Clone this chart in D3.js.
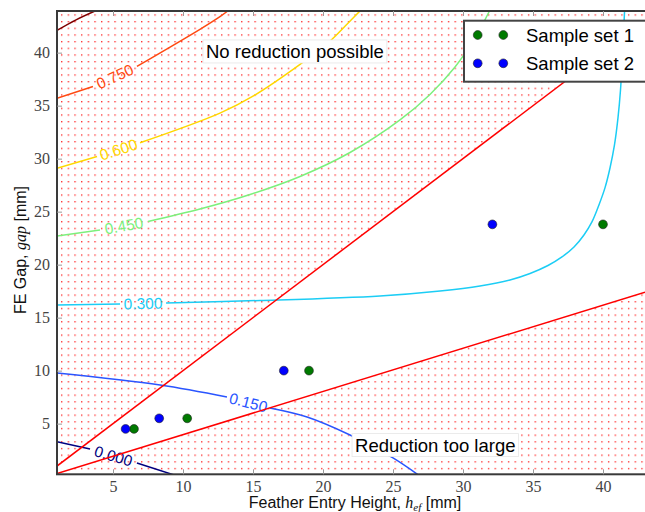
<!DOCTYPE html>
<html>
<head>
<meta charset="utf-8">
<script src="https://cdn.jsdelivr.net/npm/d3@7"></script>
<style>
  body { margin: 0; background: #fff; }
  svg { display: block; }
</style>
</head>
<body>
<svg id="chart" width="645" height="512"></svg>
<script>
// ---- data ----
const xTicks = [5, 10, 15, 20, 25, 30, 35, 40];
const yTicks = [5, 10, 15, 20, 25, 30, 35, 40];
const xDomain = [1, 43];
const yDomain = [0.22, 43.93];

// feasibility limits (gap vs. feather entry height)
const upperBound = [[1, 1], [43, 43]];
const lowerBound = [[1, 0.3], [43, 17.4]];

const sampleSet1 = [[6.5, 4.5], [10.3, 5.5], [19.0, 10.0], [40.0, 23.8]];
const sampleSet2 = [[5.9, 4.5], [8.3, 5.5], [17.2, 10.0], [32.1, 23.8]];

const contourLevels = ["0.000", "0.150", "0.300", "0.450", "0.600", "0.750", "0.900"];
const contourColors = ["#000080", "#2a55ff", "#1ccdf5", "#7cf07c", "#ffd800", "#ff4a12", "#800000"];

// each level: list of line pieces; a label sits in the gap between piece 1 and piece 2
const contour000 = [
  [[1.0, 3.3], [3.36, 2.61]],
  [[6.71, 1.29], [9.36, 0.16]]
];
const contour150 = [
  [[1.0, 9.78], [8.36, 8.65], [13.14, 7.52]],
  [[16.2, 6.48], [18.86, 5.63], [21.93, 3.93], [25.0, 1.76], [26.8, 0.16]]
];
const contour300 = [
  [[1.0, 16.2], [5.5, 16.29]],
  [[8.79, 16.39], [15.5, 16.62], [24.07, 17.05], [28.36, 17.52], [31.21, 17.99], [33.36, 18.56],
   [34.79, 19.17], [36.07, 19.92], [37.07, 20.73], [37.93, 21.67], [38.64, 22.8], [39.21, 24.03],
   [39.71, 25.63], [40.14, 27.24], [40.5, 29.12], [40.82, 31.29], [41.07, 33.84], [41.25, 36.48],
   [41.39, 39.78], [41.54, 43.93]]
];
const contour450 = [
  [[1.0, 22.71], [4.07, 23.27]],
  [[7.5, 24.08], [11.21, 25.25], [14.79, 26.62], [18.36, 28.32], [21.93, 30.58], [25.5, 33.65],
   [27.64, 36.06], [29.43, 38.65], [30.86, 41.39], [31.89, 43.93]]
];
const contour600 = [
  [[1.0, 29.1], [3.86, 30.2]],
  [[6.93, 31.5], [12.64, 34.3], [15.0, 35.9], [18.36, 38.9], [20.5, 41.1], [21.57, 42.5], [22.64, 43.93]]
];
const contour750 = [
  [[1.0, 35.7], [3.57, 36.8]],
  [[6.71, 38.7], [11.21, 42.2], [12.64, 43.4], [13.2, 43.93]]
];
const contour900 = [
  [[1.0, 42.1], [2.36, 43.1], [3.71, 43.93]]
];
const contours = [contour000, contour150, contour300, contour450, contour600, contour750, contour900];

const noReductionPos = [11.64, 39.5];
const tooLargePos = [22.29, 2.36];

// ---- layout ----
const plot = { left: 57, right: 645, top: 11, bottom: 474.3 };
const svg = d3.select("#chart");

const x = d3.scaleLinear().domain(xDomain).range([plot.left, plot.right]);
const y = d3.scaleLinear().domain(yDomain).range([plot.bottom, plot.top]);

const defs = svg.append("defs");
defs.append("clipPath").attr("id", "plotClip")
  .append("rect")
  .attr("x", plot.left).attr("y", plot.top)
  .attr("width", plot.right - plot.left + 2).attr("height", plot.bottom - plot.top);

const pat = defs.append("pattern").attr("id", "dots")
  .attr("patternUnits", "userSpaceOnUse")
  .attr("width", 6.67).attr("height", 6.67);
pat.append("rect").attr("x", 1).attr("y", 1).attr("width", 1.3).attr("height", 1.3)
  .attr("fill", "#ff1a1a");

const g = svg.append("g").attr("clip-path", "url(#plotClip)");

// hatched infeasible regions
const area = d3.line().x(d => x(d[0])).y(d => y(d[1]));
const upperRegion = [upperBound[0], upperBound[1], [xDomain[1], yDomain[1]], [xDomain[0], yDomain[1]]];
const lowerRegion = [lowerBound[0], lowerBound[1], [xDomain[1], yDomain[0]], [xDomain[0], yDomain[0]]];
g.selectAll("path.region").data([upperRegion, lowerRegion]).join("path")
  .attr("class", "region")
  .attr("d", d => area(d) + "Z")
  .attr("fill", "url(#dots)");

// contour lines with inline labels
const curve = d3.line().x(d => x(d[0])).y(d => y(d[1])).curve(d3.curveCatmullRom.alpha(0.5));
contours.forEach((pieces, i) => {
  pieces.forEach(piece => {
    g.append("path").attr("d", curve(piece))
      .attr("fill", "none").attr("stroke", contourColors[i]).attr("stroke-width", 1.5);
  });
  if (pieces.length > 1) {
    const a = pieces[0][pieces[0].length - 1];
    const b = pieces[1][0];
    const ax = x(a[0]), ay = y(a[1]), bx = x(b[0]), by = y(b[1]);
    const ang = Math.atan2(by - ay, bx - ax) * 180 / Math.PI;
    g.append("text")
      .attr("transform", `translate(${(ax + bx) / 2},${(ay + by) / 2}) rotate(${ang})`)
      .attr("text-anchor", "middle")
      .attr("dominant-baseline", "central")
      .attr("font-family", "Liberation Sans, Arial, sans-serif")
      .attr("font-size", 15.5)
      .attr("fill", contourColors[i])
      .text(contourLevels[i]);
  }
});

// limit lines
g.selectAll("path.limit").data([upperBound, lowerBound]).join("path")
  .attr("class", "limit")
  .attr("d", area)
  .attr("fill", "none").attr("stroke", "#ff0000").attr("stroke-width", 1.5);

// samples
const sets = [
  { name: "Sample set 1", data: sampleSet1, color: "#007a00" },
  { name: "Sample set 2", data: sampleSet2, color: "#0000ff" }
];
sets.forEach(s => {
  g.selectAll(null).data(s.data).join("circle")
    .attr("cx", d => x(d[0])).attr("cy", d => y(d[1])).attr("r", 4.4)
    .attr("fill", s.color).attr("stroke", "#222").attr("stroke-width", 0.6);
});

// region annotations
function boxedText(pos, label) {
  const t = svg.append("text")
    .attr("x", x(pos[0])).attr("y", y(pos[1]))
    .attr("font-family", "Liberation Sans, Arial, sans-serif")
    .attr("font-size", 18.5).attr("fill", "#000")
    .text(label);
  const bb = t.node().getBBox();
  svg.insert("rect", () => t.node())
    .attr("x", bb.x - 3).attr("y", bb.y - 1)
    .attr("width", bb.width + 6).attr("height", bb.height + 2)
    .attr("fill", "#fff").attr("stroke", "#e6e6e6").attr("stroke-width", 0.8);
}
boxedText(noReductionPos, "No reduction possible");
boxedText(tooLargePos, "Reduction too large");

// frame
svg.append("rect")
  .attr("x", plot.left).attr("y", plot.top)
  .attr("width", plot.right - plot.left + 4).attr("height", plot.bottom - plot.top)
  .attr("fill", "none").attr("stroke", "#3a3a3a").attr("stroke-width", 2);

// axes
const tickFont = "Liberation Serif, Times New Roman, serif";
const xAxis = svg.append("g").attr("transform", `translate(0,${plot.bottom})`)
  .call(d3.axisBottom(x).tickValues(xTicks).tickSize(-5).tickPadding(6).tickFormat(d3.format("d")));
const xAxisTop = svg.append("g").attr("transform", `translate(0,${plot.top})`)
  .call(d3.axisTop(x).tickValues(xTicks).tickSize(-5).tickFormat(""));
const yAxis = svg.append("g").attr("transform", `translate(${plot.left},0)`)
  .call(d3.axisLeft(y).tickValues(yTicks).tickSize(-5).tickPadding(7).tickFormat(d3.format("d")));
[xAxis, xAxisTop, yAxis].forEach(a => {
  a.select(".domain").remove();
  a.selectAll(".tick line").attr("stroke", "#999");
  a.selectAll(".tick text").attr("font-family", tickFont).attr("font-size", 16).attr("fill", "#444");
});

// axis titles
const xt = svg.append("text")
  .attr("x", 355).attr("y", 508)
  .attr("text-anchor", "middle")
  .attr("font-family", "Liberation Sans, Arial, sans-serif")
  .attr("font-size", 16).attr("fill", "#111");
xt.append("tspan").text("Feather Entry Height, ");
xt.append("tspan").attr("font-family", tickFont).attr("font-style", "italic").text("h");
xt.append("tspan").attr("font-family", tickFont).attr("font-style", "italic")
  .attr("font-size", 11).attr("dy", 3).text("ef");
xt.append("tspan").attr("dy", -3).text(" [mm]");

const yt = svg.append("text")
  .attr("transform", "translate(25.5,250) rotate(-90)")
  .attr("text-anchor", "middle")
  .attr("font-family", "Liberation Sans, Arial, sans-serif")
  .attr("font-size", 16).attr("fill", "#111");
yt.append("tspan").text("FE Gap, ");
yt.append("tspan").attr("font-family", tickFont).attr("font-style", "italic").text("gap");
yt.append("tspan").text(" [mm]");

// legend
const lg = svg.append("g");
lg.append("rect").attr("x", 464).attr("y", 20.7).attr("width", 200).attr("height", 61)
  .attr("fill", "#fff").attr("stroke", "#444").attr("stroke-width", 2);
sets.forEach((s, i) => {
  const cy = 35 + i * 28.3;
  [477.7, 503.3].forEach(cx => {
    lg.append("circle").attr("cx", cx).attr("cy", cy).attr("r", 4.4)
      .attr("fill", s.color).attr("stroke", "#222").attr("stroke-width", 0.6);
  });
  lg.append("text").attr("x", 526).attr("y", cy + 6.7)
    .attr("font-family", "Liberation Sans, Arial, sans-serif")
    .attr("font-size", 18.5).attr("fill", "#000")
    .text(s.name);
});
</script>
</body>
</html>
